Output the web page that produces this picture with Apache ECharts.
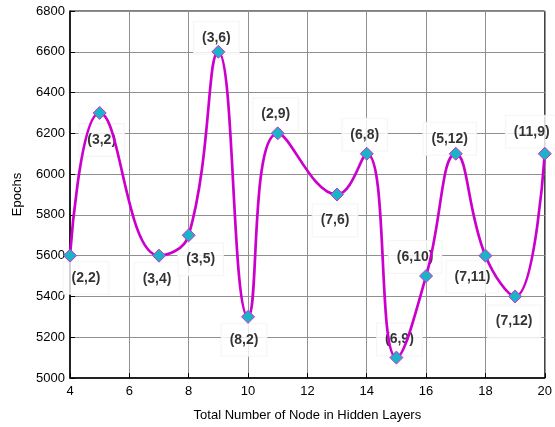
<!DOCTYPE html>
<html>
<head>
<meta charset="utf-8">
<script src="https://cdn.jsdelivr.net/npm/echarts@6/dist/echarts.min.js"></script>
<style>html,body{margin:0;padding:0;background:#fff;}#c{width:555px;height:427px;}</style>
</head>
<body>
<div id="c"></div>
<script>
const xNodes = [4, 5, 7, 8, 9, 10, 11, 13, 14, 15, 16, 17, 18, 19, 20];
const epochs = [5600, 6300, 5600, 5700, 6600, 5300, 6200, 5900, 6100, 5100, 5500, 6100, 5600, 5400, 6100];
const configs = ['(2,2)', '(3,2)', '(3,4)', '(3,5)', '(3,6)', '(8,2)', '(2,9)', '(7,6)', '(6,8)', '(6,9)', '(6,10)', '(5,12)', '(7,11)', '(7,12)', '(11,9)'];
const xTicks = [4, 6, 8, 10, 12, 14, 16, 18, 20];
const yTicks = [5000, 5200, 5400, 5600, 5800, 6000, 6200, 6400, 6600, 6800];

// label box placement (pixel offsets from the point), layout only
const labelShift = [[16,22],[2,27],[-2,23],[12,24],[-2,-14],[-4,23],[-2,-19],[-2,26],[-2,-19],[3,-18],[-11,-19],[-6,-15],[-13,21],[-1,25],[-13,-22]];

const pts = xNodes.map((x, i) => [x, epochs[i]]);
const labelPts = xNodes.map((x, i) => ({
  value: [x, epochs[i]],
  name: configs[i],
  label: { offset: labelShift[i] }
}));

const chart = echarts.init(document.getElementById('c'), null, { renderer: 'canvas' });
const font = 'Arial, "Liberation Sans", sans-serif';
chart.setOption({
  animation: false,
  backgroundColor: '#fff',
  grid: { left: 70, right: 7, top: 11, bottom: 41, show: true, borderColor: '#000', borderWidth: 1 },
  xAxis: {
    type: 'value', min: xTicks[0], max: xTicks[xTicks.length - 1], interval: 2,
    name: 'Total Number of Node in Hidden Layers', nameLocation: 'middle', nameGap: 31,
    nameTextStyle: { fontFamily: font, fontSize: 13, color: '#000' },
    axisLine: { lineStyle: { color: '#000', width: 1.5 } },
    axisTick: { inside: true, length: 5, lineStyle: { color: '#000' } },
    axisLabel: { fontFamily: font, fontSize: 13, color: '#000', margin: 7, formatter: v => String(v) },
    splitLine: { show: true, lineStyle: { color: '#909090', width: 1, type: 'solid' } }
  },
  yAxis: {
    type: 'value', min: yTicks[0], max: yTicks[yTicks.length - 1], interval: 200,
    name: 'Epochs', nameLocation: 'middle', nameGap: 46,
    nameTextStyle: { fontFamily: font, fontSize: 13, color: '#000' },
    axisLine: { show: true, lineStyle: { color: '#000', width: 1.5 } },
    axisTick: { show: true, inside: true, length: 5, lineStyle: { color: '#000' } },
    axisLabel: { fontFamily: font, fontSize: 13, color: '#000', margin: 5, formatter: v => String(v) },
    splitLine: { show: true, lineStyle: { color: '#909090', width: 1, type: 'solid' } }
  },
  series: [
    {
      type: 'scatter', z: 1, symbolSize: 1, itemStyle: { color: 'rgba(0,0,0,0)' },
      data: labelPts,
      label: {
        show: true, position: 'inside',
        formatter: p => p.name,
        fontFamily: font, fontSize: 14, fontWeight: 'bold', color: '#000',
        backgroundColor: '#fff', borderColor: '#f2f2f2', borderWidth: 1, padding: [9, 8]
      },
      emphasis: { disabled: true }
    },
    {
      type: 'line', z: 3, data: pts, smooth: 0.45,
      symbol: 'diamond', symbolSize: 13,
      itemStyle: { color: '#1ab4c6', borderColor: '#d22ad2', borderWidth: 1 },
      lineStyle: { color: '#cc00cc', width: 2.7 },
      emphasis: { disabled: true }
    }
  ]
});
</script>
</body>
</html>
